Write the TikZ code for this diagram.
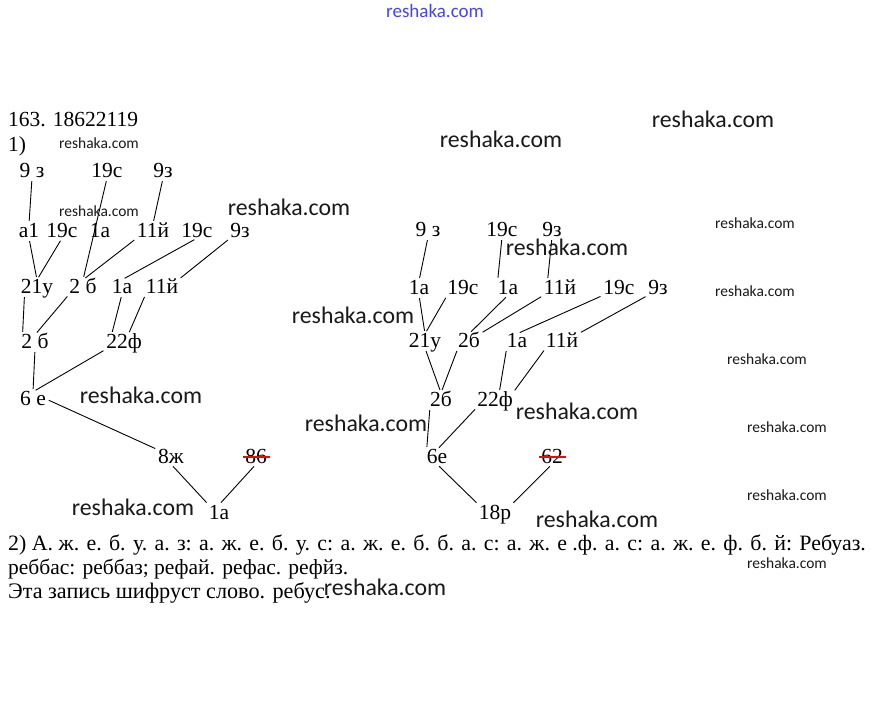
\documentclass[tikz,border=0pt]{standalone}
\usepackage{fontspec}
\setmainfont{Liberation Serif}
\newfontfamily\wmfont{Carlito}
\definecolor{wmblue}{RGB}{70,70,230}
\begin{document}
\begin{tikzpicture}[x=1pt,y=-1pt,
  lbl/.style={inner sep=0pt,text height=14pt,text depth=0pt,font=\fontsize{21.5}{24}\selectfont},
  txt/.style={inner sep=0pt,anchor=west,font=\fontsize{21.5}{24}\selectfont},
  br/.style={line width=0.9pt,shorten <=3pt,shorten >=3pt},
  wm/.style={inner sep=0pt,font=\wmfont\fontsize{23.8}{26}\selectfont,text=black!90},
  wms/.style={inner sep=0pt,font=\wmfont\fontsize{15.5}{17}\selectfont,text=black!90}]
  \useasboundingbox[fill=white] (0,0) rectangle (871,711);
  \node[txt] (num) at (8,120) {163. 18622119};
  \node[txt] (part1) at (8,146) {1)};
  % left tree
  \node[lbl] (l9z) at (32,171) {9 з};
  \node[lbl] (l19s) at (107,171) {19с};
  \node[lbl] (l9zb) at (163,171) {9з};
  \node[lbl] (a1) at (29,231) {а1};
  \node[lbl] (l19sa) at (62,231) {19с};
  \node[lbl] (l1a) at (100,231) {1а};
  \node[lbl] (l11j) at (153,231) {11й};
  \node[lbl] (l19sb) at (197,231) {19с};
  \node[lbl] (l9zc) at (240,231) {9з};
  \node[lbl] (l21u) at (37,287) {21у};
  \node[lbl] (l2b) at (83,287) {2 б};
  \node[lbl] (l1ab) at (122,287) {1а};
  \node[lbl] (l11jb) at (162,287) {11й};
  \node[lbl] (l2bb) at (35,342) {2 б};
  \node[lbl] (l22f) at (124,342) {22ф};
  \node[lbl] (l6e) at (33,399) {6 е};
  \node[lbl] (l8zh) at (171,457) {8ж};
  \node[lbl] (l86) at (256,457) {86};
  \node[lbl] (l1ac) at (219,512) {1а};
  \draw[br] (l9z.south) -- (a1.north);
  \draw[br] (l19s.south) -- (l2b.north);
  \draw[br] (l9zb.south) -- (l11j.north);
  \draw[br] (a1.south) -- (l21u.north);
  \draw[br] (l19sa.south) -- (l21u.north);
  \draw[br] (l11j.south west) -- (l2b.north);
  \draw[br] (l19sb.south) -- (l1ab.north);
  \draw[br] (l9zc.south west) -- (l11jb.north east);
  \draw[br] (l21u.-150) -- (l2bb.150);
  \draw[br] (l2b.south west) -- (l2bb.north);
  \draw[br] (l1ab.south) -- (l22f.150);
  \draw[br] (l11jb.south west) -- (l22f.60);
  \draw[br] (l2bb.south) -- (l6e.north);
  \draw[br] (l22f.south west) -- (l6e.north);
  \draw[br] (l6e.east) -- (l8zh.north west);
  \draw[br] (l8zh.south) -- (l1ac.north west);
  \draw[br] (l86.south) -- (l1ac.north);
  \draw[red,line width=2.5pt] ([xshift=-2pt]l86.west) -- ([xshift=3pt]l86.east);
  % right tree
  \node[lbl] (r9z) at (428,230) {9 з};
  \node[lbl] (r19s) at (502,230) {19с};
  \node[lbl] (r9zb) at (552,230) {9з};
  \node[lbl] (r1a) at (419,288) {1а};
  \node[lbl] (r19sa) at (463,288) {19с};
  \node[lbl] (r1ab) at (508,288) {1а};
  \node[lbl] (r11j) at (560,288) {11й};
  \node[lbl] (r19sb) at (619,288) {19с};
  \node[lbl] (r9zc) at (658,288) {9з};
  \node[lbl] (r21u) at (425,341) {21у};
  \node[lbl] (r2b) at (469,341) {2б};
  \node[lbl] (r1ac) at (517,341) {1а};
  \node[lbl] (r11jb) at (562,341) {11й};
  \node[lbl] (r2bb) at (441,400) {2б};
  \node[lbl] (r22f) at (495,400) {22ф};
  \node[lbl] (r6e) at (437,457) {6е};
  \node[lbl] (r62) at (552,457) {62};
  \node[lbl] (r18r) at (495,512) {18р};
  \draw[br] (r9z.south) -- (r1a.north);
  \draw[br] (r19s.south) -- (r1ab.north west);
  \draw[br] (r9zb.south) -- (r11j.150);
  \draw[br] (r1a.south) -- (r21u.north);
  \draw[br] (r19sa.south west) -- (r21u.north);
  \draw[br] (r1ab.south) -- (r2b.north);
  \draw[br] (r11j.south west) -- (r2b.north east);
  \draw[br] (r19sb.south west) -- (r1ac.north);
  \draw[br] (r9zc.south west) -- (r11jb.north east);
  \draw[br] (r21u.south) -- (r2bb.north);
  \draw[br] (r2b.south west) -- (r2bb.north);
  \draw[br] (r1ac.south west) -- (r22f.60);
  \draw[br] (r11jb.south west) -- (r22f.north east);
  \draw[br] (r2bb.south west) -- (r6e.north west);
  \draw[br] (r22f.south west) -- (r6e.north);
  \draw[br] (r6e.south) -- (r18r.north west);
  \draw[br] (r62.south) -- (r18r.north east);
  \draw[red,line width=2.5pt] ([xshift=-2pt]r62.west) -- ([xshift=3pt]r62.east);
  % answer
  \node[txt,font=\fontsize{21.9}{24}\selectfont] (ans1) at (8,545) {2) А. ж. е. б. у. а. з: а. ж. е. б. у. с: а. ж. е. б. б. а. с: а. ж. е .ф. а. с: а. ж. е. ф. б. й: Ребуаз.};
  \node[txt] (ans2) at (8,569) {реббас: реббаз; рефай. рефас. рефйз.};
  \node[txt,font=\fontsize{22.2}{24}\selectfont] (ans3) at (8,593) {Эта запись шифруст слово. ребус.};
  % watermarks
  \node[inner sep=0pt,font=\wmfont\fontsize{19}{21}\selectfont,text=wmblue] (wmtop) at (435,11) {reshaka.com};
  \foreach \p [count=\i] in {(713,119),(501,139),(289,207),(567,247),(353,315),(141,395),(366,423),(577,411),(133,507),(597,519),(385,587)}
    \node[wm] (wm\i) at \p {reshaka.com};
  \foreach \p [count=\i] in {(99,143),(99,211),(755,223),(755,291),(767,359),(787,427),(787,495),(787,563)}
    \node[wms] (wms\i) at \p {reshaka.com};
\end{tikzpicture}
\end{document}
